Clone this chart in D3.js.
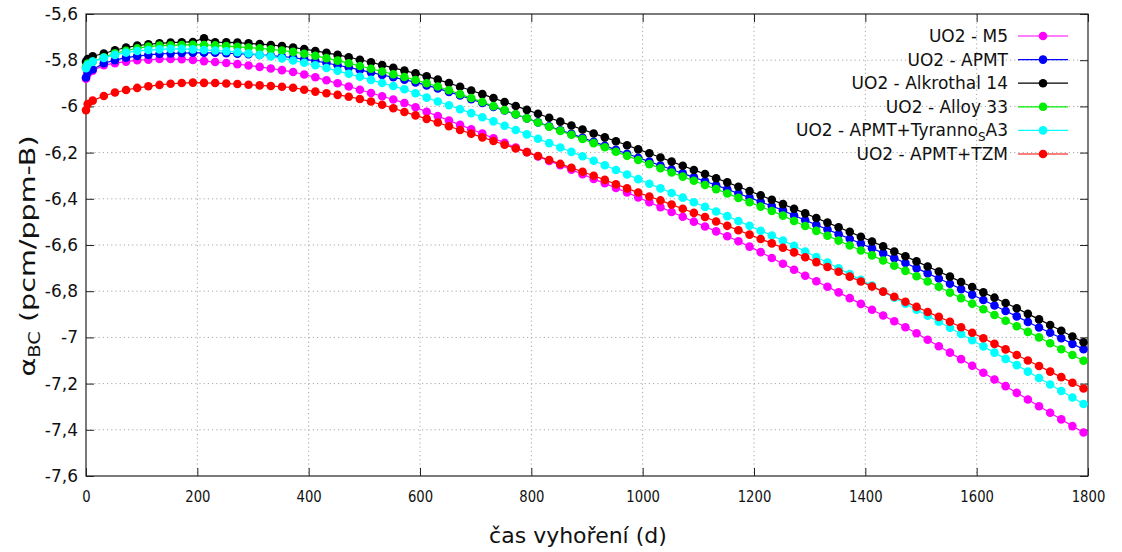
<!DOCTYPE html>
<html>
<head>
<meta charset="utf-8">
<script src="https://cdn.jsdelivr.net/npm/d3@7"></script>
<style>
  html, body { margin: 0; padding: 0; background: #fff; overflow: hidden; }
  svg { display: block; }
  text { font-family: "DejaVu Sans", Verdana, sans-serif; fill: #111; }
</style>
</head>
<body>
<svg width="1122" height="552"></svg>
<script>
const days = [0, 3, 12, 32, 52, 72, 92, 112, 132, 152, 172, 192,
  212, 232, 252, 272, 292, 312, 332, 352, 372, 392, 412, 432, 452, 472, 492, 512, 532, 552,
  572, 592, 612, 632, 652, 672, 692, 712, 732, 752, 772, 792, 812, 832, 852, 872, 892, 912,
  932, 952, 972, 992, 1012, 1032, 1052, 1072, 1092, 1112, 1132, 1152, 1172, 1192, 1212, 1232, 1252, 1272,
  1292, 1312, 1332, 1352, 1372, 1392, 1412, 1432, 1452, 1472, 1492, 1512, 1532,
  1552, 1572, 1592, 1612, 1632, 1652, 1672, 1692, 1712, 1732, 1752, 1772, 1792]

const m5 = [-5.880, -5.860, -5.845, -5.822, -5.813, -5.806, -5.800, -5.798, -5.795, -5.795, -5.796, -5.799,
  -5.804, -5.808, -5.812, -5.817, -5.823, -5.829, -5.836, -5.843, -5.851, -5.862, -5.874, -5.887, -5.900, -5.914, -5.928, -5.942, -5.956, -5.970,
  -5.985, -6.004, -6.023, -6.042, -6.061, -6.080, -6.099, -6.118, -6.138, -6.158, -6.178, -6.198, -6.217, -6.236, -6.255, -6.274, -6.294, -6.314,
  -6.333, -6.353, -6.373, -6.394, -6.415, -6.436, -6.457, -6.478, -6.499, -6.520, -6.541, -6.562, -6.584, -6.607, -6.631, -6.656, -6.681, -6.707,
  -6.733, -6.757, -6.781, -6.805, -6.830, -6.855, -6.880, -6.905, -6.930, -6.956, -6.982, -7.010, -7.038,
  -7.066, -7.094, -7.123, -7.153, -7.182, -7.211, -7.240, -7.269, -7.298, -7.326, -7.355, -7.384, -7.412]

const apmt = [-5.875, -5.852, -5.840, -5.813, -5.800, -5.789, -5.782, -5.777, -5.773, -5.771, -5.769, -5.768,
  -5.768, -5.768, -5.770, -5.772, -5.774, -5.777, -5.780, -5.784, -5.789, -5.796, -5.803, -5.812, -5.822, -5.831, -5.842, -5.853, -5.864, -5.874,
  -5.884, -5.896, -5.909, -5.922, -5.937, -5.953, -5.969, -5.985, -6.002, -6.018, -6.035, -6.052, -6.069, -6.086, -6.103, -6.119, -6.136, -6.153,
  -6.170, -6.188, -6.205, -6.222, -6.239, -6.256, -6.273, -6.290, -6.307, -6.324, -6.341, -6.359, -6.377, -6.395, -6.413, -6.431, -6.450, -6.472,
  -6.493, -6.513, -6.533, -6.553, -6.573, -6.594, -6.614, -6.635, -6.657, -6.678, -6.700, -6.723, -6.745,
  -6.768, -6.791, -6.815, -6.838, -6.862, -6.886, -6.909, -6.933, -6.957, -6.980, -7.004, -7.028, -7.051]

const alkrothal = [-5.806, -5.795, -5.783, -5.771, -5.757, -5.745, -5.737, -5.731, -5.727, -5.724, -5.722, -5.721,
  -5.705, -5.722, -5.723, -5.724, -5.727, -5.730, -5.734, -5.739, -5.745, -5.752, -5.760, -5.768, -5.777, -5.787, -5.798, -5.809, -5.821, -5.833,
  -5.845, -5.857, -5.870, -5.884, -5.899, -5.915, -5.931, -5.947, -5.964, -5.981, -5.998, -6.015, -6.032, -6.049, -6.066, -6.083, -6.100, -6.117,
  -6.134, -6.151, -6.168, -6.186, -6.203, -6.221, -6.239, -6.257, -6.275, -6.293, -6.311, -6.329, -6.348, -6.366, -6.385, -6.404, -6.423, -6.443,
  -6.463, -6.483, -6.503, -6.523, -6.543, -6.564, -6.585, -6.606, -6.628, -6.649, -6.671, -6.693, -6.715,
  -6.737, -6.760, -6.782, -6.805, -6.828, -6.851, -6.874, -6.898, -6.922, -6.946, -6.971, -6.996, -7.021]

const alloy33 = [-5.830, -5.815, -5.806, -5.787, -5.770, -5.759, -5.749, -5.741, -5.737, -5.736, -5.734, -5.733,
  -5.734, -5.736, -5.739, -5.742, -5.745, -5.749, -5.753, -5.758, -5.764, -5.772, -5.781, -5.791, -5.802, -5.813, -5.825, -5.837, -5.849, -5.861,
  -5.873, -5.886, -5.900, -5.914, -5.930, -5.947, -5.964, -5.981, -5.999, -6.016, -6.034, -6.052, -6.070, -6.088, -6.106, -6.123, -6.141, -6.159,
  -6.177, -6.196, -6.214, -6.232, -6.250, -6.268, -6.286, -6.304, -6.322, -6.340, -6.358, -6.377, -6.396, -6.415, -6.434, -6.453, -6.473, -6.496,
  -6.518, -6.539, -6.560, -6.581, -6.602, -6.624, -6.645, -6.667, -6.690, -6.712, -6.735, -6.758, -6.781,
  -6.806, -6.830, -6.854, -6.878, -6.903, -6.928, -6.952, -6.976, -7.000, -7.025, -7.051, -7.076, -7.101]

const tyranno = [-5.835, -5.820, -5.806, -5.790, -5.777, -5.767, -5.760, -5.756, -5.753, -5.751, -5.751, -5.753,
  -5.756, -5.758, -5.761, -5.765, -5.771, -5.777, -5.784, -5.792, -5.801, -5.811, -5.822, -5.834, -5.846, -5.859, -5.872, -5.885, -5.899, -5.912,
  -5.926, -5.943, -5.962, -5.979, -5.995, -6.012, -6.029, -6.047, -6.065, -6.084, -6.102, -6.121, -6.140, -6.159, -6.178, -6.197, -6.216, -6.235,
  -6.255, -6.275, -6.295, -6.315, -6.335, -6.355, -6.375, -6.395, -6.415, -6.435, -6.455, -6.475, -6.496, -6.517, -6.538, -6.559, -6.581, -6.603,
  -6.628, -6.652, -6.676, -6.701, -6.726, -6.751, -6.776, -6.802, -6.828, -6.854, -6.880, -6.906, -6.932,
  -6.958, -6.985, -7.012, -7.039, -7.066, -7.093, -7.120, -7.148, -7.176, -7.204, -7.232, -7.260, -7.288]

const tzm = [-6.016, -5.990, -5.975, -5.955, -5.940, -5.929, -5.920, -5.913, -5.907, -5.902, -5.899, -5.897,
  -5.898, -5.899, -5.901, -5.903, -5.906, -5.909, -5.912, -5.915, -5.919, -5.928, -5.936, -5.943, -5.950, -5.958, -5.968, -5.979, -5.993, -6.008,
  -6.024, -6.039, -6.054, -6.070, -6.086, -6.102, -6.118, -6.134, -6.150, -6.166, -6.182, -6.198, -6.215, -6.232, -6.249, -6.266, -6.283, -6.300,
  -6.318, -6.337, -6.355, -6.373, -6.390, -6.407, -6.425, -6.443, -6.461, -6.479, -6.498, -6.517, -6.536, -6.555, -6.574, -6.593, -6.612, -6.632,
  -6.653, -6.674, -6.695, -6.716, -6.737, -6.758, -6.780, -6.802, -6.824, -6.846, -6.868, -6.890, -6.911,
  -6.932, -6.956, -6.980, -7.004, -7.028, -7.052, -7.076, -7.100, -7.124, -7.148, -7.172, -7.196, -7.221]

const seriesNames = ["UO2 - M5", "UO2 - APMT", "UO2 - Alkrothal 14", "UO2 - Alloy 33", "UO2 - APMT+Tyranno|S|A3", "UO2 - APMT+TZM"]
const seriesValues = [m5, apmt, alkrothal, alloy33, tyranno, tzm]
const seriesColors = ["#ff00ff", "#0000ff", "#000000", "#00ee00", "#00ffff", "#ff0000"]

const xTicks = [0, 200, 400, 600, 800, 1000, 1200, 1400, 1600, 1800]
const yTicks = [-5.6, -5.8, -6, -6.2, -6.4, -6.6, -6.8, -7, -7.2, -7.4, -7.6]
const yTickLabels = ["-5,6", "-5,8", "-6", "-6,2", "-6,4", "-6,6", "-6,8", "-7", "-7,2", "-7,4", "-7,6"]

const svg = d3.select("svg")
const width = +svg.attr("width")
const height = +svg.attr("height")

const margin = {top: 14, right: 34, bottom: 76, left: 86}
const innerWidth = width - margin.left - margin.right
const innerHeight = height - margin.top - margin.bottom
const pointRadius = 4.3

const xScale = d3.scaleLinear().domain([0, 1800]).range([0, innerWidth])
const yScale = d3.scaleLinear().domain([-7.6, -5.6]).range([innerHeight, 0])

svg.append("rect").attr("width", width).attr("height", height).attr("fill", "#fff")

const g = svg.append("g")
  .attr("transform", `translate(${margin.left}, ${margin.top})`)

// dotted grid
g.append("g").selectAll("line").data(yTicks.slice(1, -1))
  .enter().append("line")
  .attr("x1", 0).attr("x2", innerWidth)
  .attr("y1", d => yScale(d)).attr("y2", d => yScale(d))
  .attr("stroke", "#a8a8a8").attr("stroke-width", 1)
  .attr("stroke-dasharray", "1.2,3")

g.append("g").selectAll("line").data(xTicks.slice(1, -1))
  .enter().append("line")
  .attr("y1", 0).attr("y2", innerHeight)
  .attr("x1", d => xScale(d)).attr("x2", d => xScale(d))
  .attr("stroke", "#a8a8a8").attr("stroke-width", 1)
  .attr("stroke-dasharray", "1.2,3")

// axes, ticks pointing inward on all four sides
const yAxisG = g.append("g")
  .call(d3.axisLeft(yScale).tickValues(yTicks)
    .tickFormat((d, i) => yTickLabels[i]).tickSize(-8).tickPadding(8))
yAxisG.selectAll("text").style("font-size", "17px")

const xAxisG = g.append("g")
  .attr("transform", `translate(0, ${innerHeight})`)
  .call(d3.axisBottom(xScale).tickValues(xTicks)
    .tickFormat(d3.format("d")).tickSize(-8).tickPadding(15))
xAxisG.selectAll("text").style("font-size", "15px")
  .attr("textLength", d => String(d).length * 8.4)
  .attr("lengthAdjust", "spacingAndGlyphs")

g.append("g")
  .call(d3.axisTop(xScale).tickValues(xTicks).tickFormat("").tickSize(-8))
g.append("g")
  .attr("transform", `translate(${innerWidth}, 0)`)
  .call(d3.axisRight(yScale).tickValues(yTicks).tickFormat("").tickSize(-8))

g.selectAll(".domain").remove()
g.selectAll(".tick line").attr("stroke", "#222")

g.append("rect")
  .attr("width", innerWidth).attr("height", innerHeight)
  .attr("fill", "none").attr("stroke", "#222").attr("stroke-width", 1.2)

// series
const line = d3.line()
  .x((d, i) => xScale(days[i]))
  .y(d => yScale(d))

seriesValues.forEach((vals, s) => {
  const sg = g.append("g")
  sg.append("path")
    .attr("d", line(vals))
    .attr("fill", "none")
    .attr("stroke", seriesColors[s])
    .attr("stroke-width", 1.2)
  sg.selectAll("circle").data(vals)
    .enter().append("circle")
    .attr("cx", (d, i) => xScale(days[i]))
    .attr("cy", d => yScale(d))
    .attr("r", pointRadius)
    .attr("fill", seriesColors[s])
})

// legend
const legend = svg.append("g")
seriesNames.forEach((name, s) => {
  const y = 36 + s * 23.6
  const parts = name.split("|")
  const t = legend.append("text")
    .attr("x", 1008).attr("y", y)
    .attr("dy", "0.35em")
    .attr("text-anchor", "end")
    .style("font-size", "17px")
  t.append("tspan").text(parts[0])
  if (parts.length > 1) {
    t.append("tspan").attr("dy", 5).style("font-size", "12px").text(parts[1])
    t.append("tspan").attr("dy", -5).text(parts[2])
  }
  legend.append("line")
    .attr("x1", 1018).attr("x2", 1068)
    .attr("y1", y).attr("y2", y)
    .attr("stroke", seriesColors[s]).attr("stroke-width", 1.2)
  legend.append("circle")
    .attr("cx", 1043).attr("cy", y)
    .attr("r", pointRadius)
    .attr("fill", seriesColors[s])
})

// axis titles
const yTitle = svg.append("text")
  .attr("transform", "translate(35, 256) rotate(-90) scale(1.3,1)")
  .attr("text-anchor", "middle")
  .style("font-size", "22px")
yTitle.append("tspan").text("α")
yTitle.append("tspan").attr("dy", 5).style("font-size", "15px").text("BC")
yTitle.append("tspan").attr("dy", -5).text(" (pcm/ppm-B)")

svg.append("text")
  .attr("x", 578).attr("y", 543)
  .attr("text-anchor", "middle")
  .style("font-size", "22px")
  .text("čas vyhoření (d)")
</script>
</body>
</html>
